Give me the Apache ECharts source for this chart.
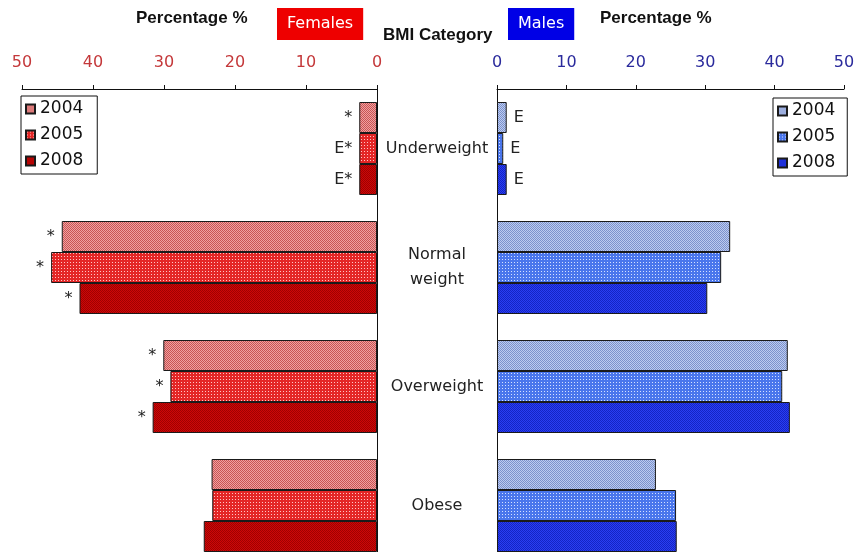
<!DOCTYPE html>
<html>
<head>
<meta charset="utf-8">
<script src="https://cdn.jsdelivr.net/npm/echarts@6/dist/echarts.min.js"></script>
<style>
  html, body { margin: 0; padding: 0; background: #fff; }
  #chart { width: 855px; height: 552px; }
</style>
</head>
<body>
<div id="chart"></div>
<script>
// BMI category distribution by sex and survey year (percent)
const categories = ['Underweight', 'Normal\nweight', 'Overweight', 'Obese'];
const years = ['2004', '2005', '2008'];

const females2004 = [2.5, 44.4, 30.1, 23.3];
const females2005 = [2.5, 45.9, 29.1, 23.2];
const females2008 = [2.5, 41.9, 31.6, 24.4];

const males2004 = [1.4, 33.6, 41.9, 22.9];
const males2005 = [0.9, 32.3, 41.1, 25.8];
const males2008 = [1.4, 30.3, 42.2, 25.9];

// quality flags printed next to the bars
const femaleFlags2004 = ['*', '*', '*', ''];
const femaleFlags2005 = ['E*', '*', '*', ''];
const femaleFlags2008 = ['E*', '*', '*', ''];
const maleFlags2004 = ['E', '', '', ''];
const maleFlags2005 = ['E', '', '', ''];
const maleFlags2008 = ['E', '', '', ''];

const axisMin = 0;
const axisMax = 50;
const axisStep = 10;

// small tiled fills giving the bars their dotted / hatched look
function tile(size, base, paint) {
  const c = document.createElement('canvas');
  c.width = size; c.height = size;
  const g = c.getContext('2d');
  g.fillStyle = base;
  g.fillRect(0, 0, size, size);
  paint(g);
  return { image: c, repeat: 'repeat' };
}
function checker(base, dark) {
  return tile(2, base, g => {
    g.fillStyle = dark;
    g.fillRect(0, 0, 1, 1);
    g.fillRect(1, 1, 1, 1);
  });
}
function dots(base, light) {
  return tile(3, base, g => {
    g.fillStyle = light;
    g.fillRect(1, 1, 1, 1);
  });
}

const femaleFills = [
  checker('#f0a0a0', '#c85454'),
  dots('#e42626', '#ffc4c4'),
  checker('#cc0808', '#a00000')
];
const maleFills = [
  checker('#bccbf0', '#7c92cc'),
  dots('#4a76ec', '#d4e0ff'),
  checker('#2a3ef2', '#1424c4')
];

const femaleValues = [females2004, females2005, females2008];
const maleValues = [males2004, males2005, males2008];
const femaleFlags = [femaleFlags2004, femaleFlags2005, femaleFlags2008];
const maleFlags = [maleFlags2004, maleFlags2005, maleFlags2008];

const baseFont = 'DejaVu Sans';
const boldFont = 'Liberation Sans';

function valueAxis(gridIndex, inverse, color) {
  return {
    type: 'value',
    gridIndex: gridIndex,
    position: 'top',
    inverse: inverse,
    min: axisMin,
    max: axisMax,
    interval: axisStep,
    splitLine: { show: false },
    axisLine: { show: true, lineStyle: { color: '#111', width: 1 } },
    axisTick: { show: true, length: 4, lineStyle: { color: '#111' } },
    axisLabel: { color: color, fontSize: 16, fontFamily: baseFont, margin: 18 }
  };
}

const series = [];
years.forEach((y, k) => {
  series.push({
    name: 'Females ' + y,
    type: 'bar',
    xAxisIndex: 0,
    yAxisIndex: 0,
    data: femaleValues[k],
    barWidth: 31,
    barGap: '0%',
    itemStyle: { color: femaleFills[k], borderColor: '#1a1a1a', borderWidth: 1 },
    label: {
      show: true,
      position: 'left',
      distance: 7,
      color: '#222',
      fontSize: 16,
      fontFamily: baseFont,
      formatter: p => femaleFlags[k][p.dataIndex]
    },
    emphasis: { disabled: true }
  });
});
years.forEach((y, k) => {
  series.push({
    name: 'Males ' + y,
    type: 'bar',
    xAxisIndex: 1,
    yAxisIndex: 1,
    data: maleValues[k],
    barWidth: 31,
    barGap: '0%',
    itemStyle: { color: maleFills[k], borderColor: '#1a1a1a', borderWidth: 1 },
    label: {
      show: true,
      position: 'right',
      distance: 7,
      color: '#222',
      fontSize: 16,
      fontFamily: baseFont,
      formatter: p => maleFlags[k][p.dataIndex]
    },
    emphasis: { disabled: true }
  });
});

const legendCommon = {
  orient: 'vertical',
  itemWidth: 9,
  itemHeight: 9,
  itemGap: 8,
  borderColor: '#111',
  borderWidth: 1,
  borderRadius: 0,
  icon: 'rect',
  selectedMode: false,
  textStyle: { fontSize: 17, fontFamily: baseFont, color: '#111', lineHeight: 18 },
  formatter: n => n.split(' ')[1]
};

const chart = echarts.init(document.getElementById('chart'), null, { renderer: 'canvas' });
chart.setOption({
  backgroundColor: '#fff',
  animation: false,
  textStyle: { fontFamily: baseFont },
  title: [
    { text: 'Percentage %', left: 136, top: 10, padding: 0,
      textStyle: { fontFamily: boldFont, fontWeight: 'bold', fontSize: 17, color: '#111' } },
    { text: 'Females', left: 277, top: 8, padding: [6, 10, 6, 10], backgroundColor: '#ee0000',
      textStyle: { fontFamily: baseFont, fontWeight: 'normal', fontSize: 16, lineHeight: 20, color: '#fff' } },
    { text: 'BMI Category', left: 383, top: 27, padding: 0,
      textStyle: { fontFamily: boldFont, fontWeight: 'bold', fontSize: 17, color: '#111' } },
    { text: 'Males', left: 508, top: 8, padding: [6, 10, 6, 10], backgroundColor: '#0000e6',
      textStyle: { fontFamily: baseFont, fontWeight: 'normal', fontSize: 16, lineHeight: 20, color: '#fff' } },
    { text: 'Percentage %', left: 600, top: 10, padding: 0,
      textStyle: { fontFamily: boldFont, fontWeight: 'bold', fontSize: 17, color: '#111' } }
  ],
  legend: [
    Object.assign({}, legendCommon, {
      data: years.map(y => 'Females ' + y),
      left: 21, top: 96, padding: [4, 14, 4, 4]
    }),
    Object.assign({}, legendCommon, {
      data: years.map(y => 'Males ' + y),
      left: 773, top: 98, padding: [4, 12, 4, 4]
    })
  ],
  grid: [
    { left: 22, top: 89, width: 355, height: 476, outerBoundsMode: 'none' },
    { left: 497, top: 89, width: 347, height: 476, outerBoundsMode: 'none' }
  ],
  xAxis: [
    valueAxis(0, true, '#c4383a'),
    valueAxis(1, false, '#2a2a9c')
  ],
  yAxis: [
    {
      type: 'category', gridIndex: 0, data: categories, inverse: true, position: 'right',
      axisLine: { show: true, lineStyle: { color: '#111' } },
      axisTick: { show: false },
      axisLabel: { show: false }
    },
    {
      type: 'category', gridIndex: 1, data: categories, inverse: true, position: 'left',
      axisLine: { show: true, lineStyle: { color: '#111' } },
      axisTick: { show: false },
      axisLabel: {
        show: true, align: 'center', margin: 60,
        fontSize: 16, lineHeight: 25, color: '#222', fontFamily: baseFont
      }
    }
  ],
  series: series
});
</script>
</body>
</html>
